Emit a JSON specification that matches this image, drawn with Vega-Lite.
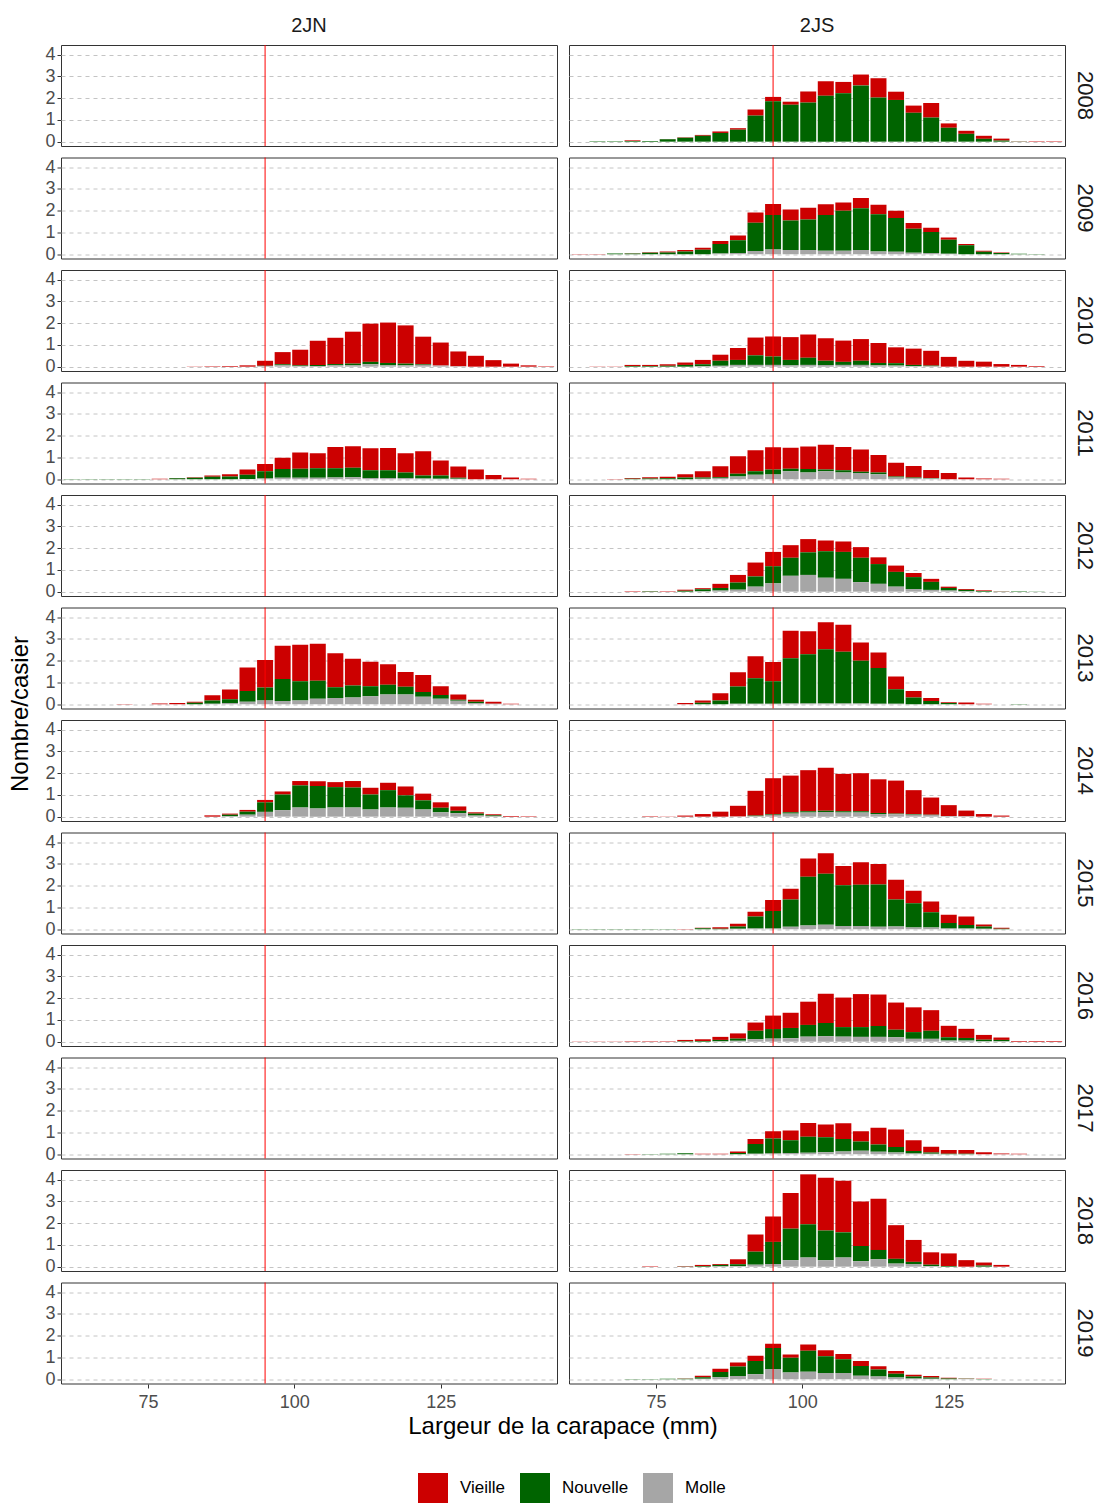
{
"$schema": "https://vega.github.io/schema/vega-lite/v6.json",
"padding": {"left": 8, "top": 16, "right": 5, "bottom": 5},
"bounds": "flush",
"data": {"values": [
{"zone":"2JN","year":2008,"x":95,"Vieille":0},
{"zone":"2JN","year":2009,"x":95,"Vieille":0},
{"zone":"2JN","year":2012,"x":95,"Vieille":0},
{"zone":"2JN","year":2015,"x":95,"Vieille":0},
{"zone":"2JN","year":2016,"x":95,"Vieille":0},
{"zone":"2JN","year":2017,"x":95,"Vieille":0},
{"zone":"2JN","year":2018,"x":95,"Vieille":0},
{"zone":"2JN","year":2019,"x":95,"Vieille":0},

{"zone":"2JN","year":2010,"x":83,"Vieille":0.01},
{"zone":"2JN","year":2010,"x":86,"Vieille":0.02},
{"zone":"2JN","year":2010,"x":89,"Vieille":0.03},
{"zone":"2JN","year":2010,"x":92,"Vieille":0.06},
{"zone":"2JN","year":2010,"x":95,"Vieille":0.23,"Nouvelle":0.01,"Molle":0.03},
{"zone":"2JN","year":2010,"x":98,"Vieille":0.56,"Nouvelle":0.05,"Molle":0.06},
{"zone":"2JN","year":2010,"x":101,"Vieille":0.72,"Nouvelle":0.03,"Molle":0.03},
{"zone":"2JN","year":2010,"x":104,"Vieille":1.11,"Nouvelle":0.05,"Molle":0.03},
{"zone":"2JN","year":2010,"x":107,"Vieille":1.21,"Nouvelle":0.06,"Molle":0.06},
{"zone":"2JN","year":2010,"x":110,"Vieille":1.47,"Nouvelle":0.08,"Molle":0.06},
{"zone":"2JN","year":2010,"x":113,"Vieille":1.76,"Nouvelle":0.11,"Molle":0.11},
{"zone":"2JN","year":2010,"x":116,"Vieille":1.86,"Nouvelle":0.11,"Molle":0.06},
{"zone":"2JN","year":2010,"x":119,"Vieille":1.76,"Nouvelle":0.08,"Molle":0.06},
{"zone":"2JN","year":2010,"x":122,"Vieille":1.27,"Nouvelle":0.03,"Molle":0.08},
{"zone":"2JN","year":2010,"x":125,"Vieille":1.06,"Molle":0.05},
{"zone":"2JN","year":2010,"x":128,"Vieille":0.68,"Molle":0.02},
{"zone":"2JN","year":2010,"x":131,"Vieille":0.5},
{"zone":"2JN","year":2010,"x":134,"Vieille":0.3},
{"zone":"2JN","year":2010,"x":137,"Vieille":0.14},
{"zone":"2JN","year":2010,"x":140,"Vieille":0.06},
{"zone":"2JN","year":2010,"x":143,"Vieille":0.02},

{"zone":"2JN","year":2011,"x":62,"Nouvelle":0.01},
{"zone":"2JN","year":2011,"x":65,"Nouvelle":0.01},
{"zone":"2JN","year":2011,"x":68,"Nouvelle":0.01},
{"zone":"2JN","year":2011,"x":71,"Nouvelle":0.01},
{"zone":"2JN","year":2011,"x":74,"Nouvelle":0.01},
{"zone":"2JN","year":2011,"x":77,"Vieille":0.02},
{"zone":"2JN","year":2011,"x":80,"Vieille":0.01,"Nouvelle":0.04},
{"zone":"2JN","year":2011,"x":83,"Vieille":0.03,"Nouvelle":0.06},
{"zone":"2JN","year":2011,"x":86,"Vieille":0.06,"Nouvelle":0.11},
{"zone":"2JN","year":2011,"x":89,"Vieille":0.11,"Nouvelle":0.12},
{"zone":"2JN","year":2011,"x":92,"Vieille":0.24,"Nouvelle":0.19,"Molle":0.01},
{"zone":"2JN","year":2011,"x":95,"Vieille":0.34,"Nouvelle":0.33,"Molle":0.03},
{"zone":"2JN","year":2011,"x":98,"Vieille":0.51,"Nouvelle":0.41,"Molle":0.06},
{"zone":"2JN","year":2011,"x":101,"Vieille":0.75,"Nouvelle":0.42,"Molle":0.06},
{"zone":"2JN","year":2011,"x":104,"Vieille":0.69,"Nouvelle":0.44,"Molle":0.06},
{"zone":"2JN","year":2011,"x":107,"Vieille":0.98,"Nouvelle":0.42,"Molle":0.08},
{"zone":"2JN","year":2011,"x":110,"Vieille":1.0,"Nouvelle":0.43,"Molle":0.09},
{"zone":"2JN","year":2011,"x":113,"Vieille":1.01,"Nouvelle":0.36,"Molle":0.05},
{"zone":"2JN","year":2011,"x":116,"Vieille":1.03,"Nouvelle":0.36,"Molle":0.05},
{"zone":"2JN","year":2011,"x":119,"Vieille":0.88,"Nouvelle":0.26,"Molle":0.05},
{"zone":"2JN","year":2011,"x":122,"Vieille":1.11,"Nouvelle":0.14,"Molle":0.03},
{"zone":"2JN","year":2011,"x":125,"Vieille":0.69,"Nouvelle":0.15,"Molle":0.02},
{"zone":"2JN","year":2011,"x":128,"Vieille":0.52,"Nouvelle":0.04,"Molle":0.02},
{"zone":"2JN","year":2011,"x":131,"Vieille":0.44},
{"zone":"2JN","year":2011,"x":134,"Vieille":0.19},
{"zone":"2JN","year":2011,"x":137,"Vieille":0.08},
{"zone":"2JN","year":2011,"x":140,"Vieille":0.02},

{"zone":"2JN","year":2013,"x":71,"Vieille":0.01},
{"zone":"2JN","year":2013,"x":77,"Vieille":0.03},
{"zone":"2JN","year":2013,"x":80,"Vieille":0.05},
{"zone":"2JN","year":2013,"x":83,"Vieille":0.05,"Nouvelle":0.06},
{"zone":"2JN","year":2013,"x":86,"Vieille":0.24,"Nouvelle":0.15,"Molle":0.02},
{"zone":"2JN","year":2013,"x":89,"Vieille":0.44,"Nouvelle":0.18,"Molle":0.05},
{"zone":"2JN","year":2013,"x":92,"Vieille":1.08,"Nouvelle":0.5,"Molle":0.11},
{"zone":"2JN","year":2013,"x":95,"Vieille":1.26,"Nouvelle":0.6,"Molle":0.17},
{"zone":"2JN","year":2013,"x":98,"Vieille":1.53,"Nouvelle":1.02,"Molle":0.14},
{"zone":"2JN","year":2013,"x":101,"Vieille":1.67,"Nouvelle":0.89,"Molle":0.17},
{"zone":"2JN","year":2013,"x":104,"Vieille":1.7,"Nouvelle":0.83,"Molle":0.25},
{"zone":"2JN","year":2013,"x":107,"Vieille":1.56,"Nouvelle":0.5,"Molle":0.28},
{"zone":"2JN","year":2013,"x":110,"Vieille":1.23,"Nouvelle":0.55,"Molle":0.31},
{"zone":"2JN","year":2013,"x":113,"Vieille":1.12,"Nouvelle":0.47,"Molle":0.36},
{"zone":"2JN","year":2013,"x":116,"Vieille":0.95,"Nouvelle":0.45,"Molle":0.44},
{"zone":"2JN","year":2013,"x":119,"Vieille":0.68,"Nouvelle":0.35,"Molle":0.45},
{"zone":"2JN","year":2013,"x":122,"Vieille":0.78,"Nouvelle":0.22,"Molle":0.34},
{"zone":"2JN","year":2013,"x":125,"Vieille":0.41,"Nouvelle":0.17,"Molle":0.25},
{"zone":"2JN","year":2013,"x":128,"Vieille":0.25,"Nouvelle":0.04,"Molle":0.16},
{"zone":"2JN","year":2013,"x":131,"Vieille":0.09,"Nouvelle":0.06,"Molle":0.05},
{"zone":"2JN","year":2013,"x":134,"Vieille":0.09,"Molle":0.02},
{"zone":"2JN","year":2013,"x":137,"Vieille":0.02},

{"zone":"2JN","year":2014,"x":86,"Vieille":0.06},
{"zone":"2JN","year":2014,"x":89,"Vieille":0.05,"Nouvelle":0.07,"Molle":0.02},
{"zone":"2JN","year":2014,"x":92,"Vieille":0.08,"Nouvelle":0.14,"Molle":0.09},
{"zone":"2JN","year":2014,"x":95,"Vieille":0.11,"Nouvelle":0.44,"Molle":0.22},
{"zone":"2JN","year":2014,"x":98,"Vieille":0.14,"Nouvelle":0.72,"Molle":0.3},
{"zone":"2JN","year":2014,"x":101,"Vieille":0.2,"Nouvelle":1.02,"Molle":0.42},
{"zone":"2JN","year":2014,"x":104,"Vieille":0.22,"Nouvelle":1.03,"Molle":0.38},
{"zone":"2JN","year":2014,"x":107,"Vieille":0.23,"Nouvelle":0.94,"Molle":0.42},
{"zone":"2JN","year":2014,"x":110,"Vieille":0.3,"Nouvelle":0.92,"Molle":0.42},
{"zone":"2JN","year":2014,"x":113,"Vieille":0.31,"Nouvelle":0.69,"Molle":0.33},
{"zone":"2JN","year":2014,"x":116,"Vieille":0.34,"Nouvelle":0.8,"Molle":0.42},
{"zone":"2JN","year":2014,"x":119,"Vieille":0.41,"Nouvelle":0.57,"Molle":0.41},
{"zone":"2JN","year":2014,"x":122,"Vieille":0.31,"Nouvelle":0.42,"Molle":0.33},
{"zone":"2JN","year":2014,"x":125,"Vieille":0.25,"Nouvelle":0.21,"Molle":0.2},
{"zone":"2JN","year":2014,"x":128,"Vieille":0.2,"Nouvelle":0.11,"Molle":0.16},
{"zone":"2JN","year":2014,"x":131,"Vieille":0.06,"Nouvelle":0.09,"Molle":0.05},
{"zone":"2JN","year":2014,"x":134,"Vieille":0.05,"Nouvelle":0.04,"Molle":0.02},
{"zone":"2JN","year":2014,"x":137,"Vieille":0.03},
{"zone":"2JN","year":2014,"x":140,"Vieille":0.02},

{"zone":"2JS","year":2008,"x":65,"Nouvelle":0.02},
{"zone":"2JS","year":2008,"x":68,"Nouvelle":0.02},
{"zone":"2JS","year":2008,"x":71,"Vieille":0.03,"Nouvelle":0.03},
{"zone":"2JS","year":2008,"x":74,"Nouvelle":0.03},
{"zone":"2JS","year":2008,"x":77,"Vieille":0.01,"Nouvelle":0.11},
{"zone":"2JS","year":2008,"x":80,"Vieille":0.02,"Nouvelle":0.18},
{"zone":"2JS","year":2008,"x":83,"Vieille":0.04,"Nouvelle":0.27},
{"zone":"2JS","year":2008,"x":86,"Vieille":0.07,"Nouvelle":0.4},
{"zone":"2JS","year":2008,"x":89,"Vieille":0.07,"Nouvelle":0.55},
{"zone":"2JS","year":2008,"x":92,"Vieille":0.28,"Nouvelle":1.2},
{"zone":"2JS","year":2008,"x":95,"Vieille":0.2,"Nouvelle":1.86},
{"zone":"2JS","year":2008,"x":98,"Vieille":0.14,"Nouvelle":1.7},
{"zone":"2JS","year":2008,"x":101,"Vieille":0.51,"Nouvelle":1.8},
{"zone":"2JS","year":2008,"x":104,"Vieille":0.67,"Nouvelle":2.11},
{"zone":"2JS","year":2008,"x":107,"Vieille":0.52,"Nouvelle":2.23},
{"zone":"2JS","year":2008,"x":110,"Vieille":0.5,"Nouvelle":2.59},
{"zone":"2JS","year":2008,"x":113,"Vieille":0.89,"Nouvelle":2.03},
{"zone":"2JS","year":2008,"x":116,"Vieille":0.38,"Nouvelle":1.92},
{"zone":"2JS","year":2008,"x":119,"Vieille":0.33,"Nouvelle":1.33},
{"zone":"2JS","year":2008,"x":122,"Vieille":0.67,"Nouvelle":1.11},
{"zone":"2JS","year":2008,"x":125,"Vieille":0.2,"Nouvelle":0.64},
{"zone":"2JS","year":2008,"x":128,"Vieille":0.14,"Nouvelle":0.36},
{"zone":"2JS","year":2008,"x":131,"Vieille":0.14,"Nouvelle":0.13},
{"zone":"2JS","year":2008,"x":134,"Vieille":0.09,"Nouvelle":0.05},
{"zone":"2JS","year":2008,"x":137,"Vieille":0.01,"Nouvelle":0.01},
{"zone":"2JS","year":2008,"x":140,"Vieille":0.02},
{"zone":"2JS","year":2008,"x":143,"Vieille":0.02},

{"zone":"2JS","year":2009,"x":62,"Vieille":0.01},
{"zone":"2JS","year":2009,"x":65,"Vieille":0.01},
{"zone":"2JS","year":2009,"x":68,"Nouvelle":0.03},
{"zone":"2JS","year":2009,"x":71,"Vieille":0.01,"Nouvelle":0.03},
{"zone":"2JS","year":2009,"x":74,"Vieille":0.03,"Nouvelle":0.06},
{"zone":"2JS","year":2009,"x":77,"Vieille":0.04,"Nouvelle":0.08},
{"zone":"2JS","year":2009,"x":80,"Vieille":0.07,"Nouvelle":0.12},
{"zone":"2JS","year":2009,"x":83,"Vieille":0.1,"Nouvelle":0.2},
{"zone":"2JS","year":2009,"x":86,"Vieille":0.14,"Nouvelle":0.44,"Molle":0.03},
{"zone":"2JS","year":2009,"x":89,"Vieille":0.22,"Nouvelle":0.59,"Molle":0.05},
{"zone":"2JS","year":2009,"x":92,"Vieille":0.47,"Nouvelle":1.31,"Molle":0.14},
{"zone":"2JS","year":2009,"x":95,"Vieille":0.51,"Nouvelle":1.58,"Molle":0.22},
{"zone":"2JS","year":2009,"x":98,"Vieille":0.51,"Nouvelle":1.36,"Molle":0.19},
{"zone":"2JS","year":2009,"x":101,"Vieille":0.55,"Nouvelle":1.4,"Molle":0.19},
{"zone":"2JS","year":2009,"x":104,"Vieille":0.5,"Nouvelle":1.64,"Molle":0.16},
{"zone":"2JS","year":2009,"x":107,"Vieille":0.38,"Nouvelle":1.84,"Molle":0.16},
{"zone":"2JS","year":2009,"x":110,"Vieille":0.47,"Nouvelle":1.92,"Molle":0.19},
{"zone":"2JS","year":2009,"x":113,"Vieille":0.43,"Nouvelle":1.72,"Molle":0.12},
{"zone":"2JS","year":2009,"x":116,"Vieille":0.33,"Nouvelle":1.56,"Molle":0.11},
{"zone":"2JS","year":2009,"x":119,"Vieille":0.27,"Nouvelle":1.11,"Molle":0.06},
{"zone":"2JS","year":2009,"x":122,"Vieille":0.2,"Nouvelle":0.97,"Molle":0.05},
{"zone":"2JS","year":2009,"x":125,"Vieille":0.11,"Nouvelle":0.64,"Molle":0.02},
{"zone":"2JS","year":2009,"x":128,"Vieille":0.06,"Nouvelle":0.41},
{"zone":"2JS","year":2009,"x":131,"Vieille":0.05,"Nouvelle":0.11},
{"zone":"2JS","year":2009,"x":134,"Vieille":0.03,"Nouvelle":0.05},
{"zone":"2JS","year":2009,"x":137,"Nouvelle":0.02},
{"zone":"2JS","year":2009,"x":140,"Nouvelle":0.01},

{"zone":"2JS","year":2010,"x":65,"Vieille":0.01},
{"zone":"2JS","year":2010,"x":68,"Vieille":0.01},
{"zone":"2JS","year":2010,"x":71,"Vieille":0.05,"Nouvelle":0.03},
{"zone":"2JS","year":2010,"x":74,"Vieille":0.05,"Nouvelle":0.03},
{"zone":"2JS","year":2010,"x":77,"Vieille":0.07,"Nouvelle":0.04},
{"zone":"2JS","year":2010,"x":80,"Vieille":0.11,"Nouvelle":0.08},
{"zone":"2JS","year":2010,"x":83,"Vieille":0.2,"Nouvelle":0.09,"Molle":0.02},
{"zone":"2JS","year":2010,"x":86,"Vieille":0.28,"Nouvelle":0.23,"Molle":0.04},
{"zone":"2JS","year":2010,"x":89,"Vieille":0.55,"Nouvelle":0.23,"Molle":0.08},
{"zone":"2JS","year":2010,"x":92,"Vieille":0.82,"Nouvelle":0.44,"Molle":0.08},
{"zone":"2JS","year":2010,"x":95,"Vieille":0.92,"Nouvelle":0.39,"Molle":0.08},
{"zone":"2JS","year":2010,"x":98,"Vieille":1.05,"Nouvelle":0.25,"Molle":0.06},
{"zone":"2JS","year":2010,"x":101,"Vieille":1.07,"Nouvelle":0.33,"Molle":0.08},
{"zone":"2JS","year":2010,"x":104,"Vieille":1.04,"Nouvelle":0.19,"Molle":0.08},
{"zone":"2JS","year":2010,"x":107,"Vieille":0.98,"Nouvelle":0.14,"Molle":0.08},
{"zone":"2JS","year":2010,"x":110,"Vieille":1.0,"Nouvelle":0.19,"Molle":0.08},
{"zone":"2JS","year":2010,"x":113,"Vieille":0.92,"Nouvelle":0.11,"Molle":0.06},
{"zone":"2JS","year":2010,"x":116,"Vieille":0.73,"Nouvelle":0.11,"Molle":0.05},
{"zone":"2JS","year":2010,"x":119,"Vieille":0.75,"Nouvelle":0.05,"Molle":0.03},
{"zone":"2JS","year":2010,"x":122,"Vieille":0.68,"Nouvelle":0.03,"Molle":0.02},
{"zone":"2JS","year":2010,"x":125,"Vieille":0.45},
{"zone":"2JS","year":2010,"x":128,"Vieille":0.27},
{"zone":"2JS","year":2010,"x":131,"Vieille":0.23},
{"zone":"2JS","year":2010,"x":134,"Vieille":0.12},
{"zone":"2JS","year":2010,"x":137,"Vieille":0.08},
{"zone":"2JS","year":2010,"x":140,"Vieille":0.03},

{"zone":"2JS","year":2011,"x":68,"Vieille":0.01},
{"zone":"2JS","year":2011,"x":71,"Vieille":0.03,"Nouvelle":0.02},
{"zone":"2JS","year":2011,"x":74,"Vieille":0.06,"Nouvelle":0.03},
{"zone":"2JS","year":2011,"x":77,"Vieille":0.07,"Nouvelle":0.04},
{"zone":"2JS","year":2011,"x":80,"Vieille":0.15,"Nouvelle":0.08},
{"zone":"2JS","year":2011,"x":83,"Vieille":0.28,"Nouvelle":0.06,"Molle":0.02},
{"zone":"2JS","year":2011,"x":86,"Vieille":0.5,"Nouvelle":0.04,"Molle":0.05},
{"zone":"2JS","year":2011,"x":89,"Vieille":0.81,"Nouvelle":0.13,"Molle":0.12},
{"zone":"2JS","year":2011,"x":92,"Vieille":0.97,"Nouvelle":0.16,"Molle":0.2},
{"zone":"2JS","year":2011,"x":95,"Vieille":1.03,"Nouvelle":0.22,"Molle":0.22},
{"zone":"2JS","year":2011,"x":98,"Vieille":0.97,"Nouvelle":0.12,"Molle":0.36},
{"zone":"2JS","year":2011,"x":101,"Vieille":1.03,"Nouvelle":0.16,"Molle":0.31},
{"zone":"2JS","year":2011,"x":104,"Vieille":1.13,"Nouvelle":0.09,"Molle":0.36},
{"zone":"2JS","year":2011,"x":107,"Vieille":1.07,"Nouvelle":0.1,"Molle":0.31},
{"zone":"2JS","year":2011,"x":110,"Vieille":1.02,"Nouvelle":0.06,"Molle":0.28},
{"zone":"2JS","year":2011,"x":113,"Vieille":0.8,"Nouvelle":0.08,"Molle":0.23},
{"zone":"2JS","year":2011,"x":116,"Vieille":0.63,"Nouvelle":0.04,"Molle":0.08},
{"zone":"2JS","year":2011,"x":119,"Vieille":0.53,"Nouvelle":0.03,"Molle":0.05},
{"zone":"2JS","year":2011,"x":122,"Vieille":0.37,"Nouvelle":0.02,"Molle":0.03},
{"zone":"2JS","year":2011,"x":125,"Vieille":0.28},
{"zone":"2JS","year":2011,"x":128,"Vieille":0.08},
{"zone":"2JS","year":2011,"x":131,"Vieille":0.03},
{"zone":"2JS","year":2011,"x":134,"Vieille":0.02},

{"zone":"2JS","year":2012,"x":71,"Vieille":0.02},
{"zone":"2JS","year":2012,"x":74,"Vieille":0.01,"Nouvelle":0.02},
{"zone":"2JS","year":2012,"x":77,"Vieille":0.02},
{"zone":"2JS","year":2012,"x":80,"Vieille":0.05,"Nouvelle":0.04},
{"zone":"2JS","year":2012,"x":83,"Vieille":0.05,"Nouvelle":0.09,"Molle":0.02},
{"zone":"2JS","year":2012,"x":86,"Vieille":0.19,"Nouvelle":0.12,"Molle":0.05},
{"zone":"2JS","year":2012,"x":89,"Vieille":0.35,"Nouvelle":0.33,"Molle":0.09},
{"zone":"2JS","year":2012,"x":92,"Vieille":0.64,"Nouvelle":0.47,"Molle":0.23},
{"zone":"2JS","year":2012,"x":95,"Vieille":0.66,"Nouvelle":0.79,"Molle":0.38},
{"zone":"2JS","year":2012,"x":98,"Vieille":0.58,"Nouvelle":0.83,"Molle":0.73},
{"zone":"2JS","year":2012,"x":101,"Vieille":0.61,"Nouvelle":1.04,"Molle":0.77},
{"zone":"2JS","year":2012,"x":104,"Vieille":0.5,"Nouvelle":1.22,"Molle":0.64},
{"zone":"2JS","year":2012,"x":107,"Vieille":0.48,"Nouvelle":1.24,"Molle":0.59},
{"zone":"2JS","year":2012,"x":110,"Vieille":0.49,"Nouvelle":1.12,"Molle":0.44},
{"zone":"2JS","year":2012,"x":113,"Vieille":0.31,"Nouvelle":0.91,"Molle":0.36},
{"zone":"2JS","year":2012,"x":116,"Vieille":0.29,"Nouvelle":0.68,"Molle":0.23},
{"zone":"2JS","year":2012,"x":119,"Vieille":0.19,"Nouvelle":0.55,"Molle":0.12},
{"zone":"2JS","year":2012,"x":122,"Vieille":0.14,"Nouvelle":0.37,"Molle":0.08},
{"zone":"2JS","year":2012,"x":125,"Vieille":0.06,"Nouvelle":0.12,"Molle":0.05},
{"zone":"2JS","year":2012,"x":128,"Vieille":0.04,"Nouvelle":0.06,"Molle":0.02},
{"zone":"2JS","year":2012,"x":131,"Vieille":0.03,"Nouvelle":0.03},
{"zone":"2JS","year":2012,"x":134,"Vieille":0.01,"Nouvelle":0.01},
{"zone":"2JS","year":2012,"x":137,"Nouvelle":0.02},
{"zone":"2JS","year":2012,"x":140,"Nouvelle":0.01},

{"zone":"2JS","year":2013,"x":80,"Vieille":0.05},
{"zone":"2JS","year":2013,"x":83,"Vieille":0.11,"Nouvelle":0.06},
{"zone":"2JS","year":2013,"x":86,"Vieille":0.33,"Nouvelle":0.17},
{"zone":"2JS","year":2013,"x":89,"Vieille":0.66,"Nouvelle":0.79,"Molle":0.02},
{"zone":"2JS","year":2013,"x":92,"Vieille":1.01,"Nouvelle":1.17,"Molle":0.02},
{"zone":"2JS","year":2013,"x":95,"Vieille":0.88,"Nouvelle":1.04,"Molle":0.02},
{"zone":"2JS","year":2013,"x":98,"Vieille":1.27,"Nouvelle":2.08,"Molle":0.03},
{"zone":"2JS","year":2013,"x":101,"Vieille":1.06,"Nouvelle":2.27,"Molle":0.03},
{"zone":"2JS","year":2013,"x":104,"Vieille":1.24,"Nouvelle":2.5,"Molle":0.03},
{"zone":"2JS","year":2013,"x":107,"Vieille":1.25,"Nouvelle":2.38,"Molle":0.03},
{"zone":"2JS","year":2013,"x":110,"Vieille":0.84,"Nouvelle":1.97,"Molle":0.03},
{"zone":"2JS","year":2013,"x":113,"Vieille":0.72,"Nouvelle":1.64,"Molle":0.02},
{"zone":"2JS","year":2013,"x":116,"Vieille":0.58,"Nouvelle":0.67,"Molle":0.02},
{"zone":"2JS","year":2013,"x":119,"Vieille":0.3,"Nouvelle":0.31},
{"zone":"2JS","year":2013,"x":122,"Vieille":0.14,"Nouvelle":0.14},
{"zone":"2JS","year":2013,"x":125,"Vieille":0.04,"Nouvelle":0.05},
{"zone":"2JS","year":2013,"x":128,"Vieille":0.08},
{"zone":"2JS","year":2013,"x":131,"Vieille":0.02},
{"zone":"2JS","year":2013,"x":137,"Nouvelle":0.01},

{"zone":"2JS","year":2014,"x":74,"Vieille":0.02},
{"zone":"2JS","year":2014,"x":77,"Vieille":0.01},
{"zone":"2JS","year":2014,"x":80,"Vieille":0.05},
{"zone":"2JS","year":2014,"x":83,"Vieille":0.12},
{"zone":"2JS","year":2014,"x":86,"Vieille":0.23},
{"zone":"2JS","year":2014,"x":89,"Vieille":0.49,"Molle":0.01},
{"zone":"2JS","year":2014,"x":92,"Vieille":1.14,"Nouvelle":0.03,"Molle":0.02},
{"zone":"2JS","year":2014,"x":95,"Vieille":1.66,"Nouvelle":0.03,"Molle":0.08},
{"zone":"2JS","year":2014,"x":98,"Vieille":1.69,"Nouvelle":0.06,"Molle":0.14},
{"zone":"2JS","year":2014,"x":101,"Vieille":1.89,"Nouvelle":0.06,"Molle":0.19},
{"zone":"2JS","year":2014,"x":104,"Vieille":1.98,"Nouvelle":0.05,"Molle":0.22},
{"zone":"2JS","year":2014,"x":107,"Vieille":1.72,"Nouvelle":0.06,"Molle":0.19},
{"zone":"2JS","year":2014,"x":110,"Vieille":1.75,"Nouvelle":0.06,"Molle":0.19},
{"zone":"2JS","year":2014,"x":113,"Vieille":1.55,"Nouvelle":0.05,"Molle":0.12},
{"zone":"2JS","year":2014,"x":116,"Vieille":1.52,"Nouvelle":0.03,"Molle":0.11},
{"zone":"2JS","year":2014,"x":119,"Vieille":1.1,"Nouvelle":0.03,"Molle":0.09},
{"zone":"2JS","year":2014,"x":122,"Vieille":0.79,"Nouvelle":0.01,"Molle":0.08},
{"zone":"2JS","year":2014,"x":125,"Vieille":0.5,"Molle":0.03},
{"zone":"2JS","year":2014,"x":128,"Vieille":0.26,"Molle":0.02},
{"zone":"2JS","year":2014,"x":131,"Vieille":0.12},
{"zone":"2JS","year":2014,"x":134,"Vieille":0.05},

{"zone":"2JS","year":2015,"x":62,"Nouvelle":0.01},
{"zone":"2JS","year":2015,"x":65,"Nouvelle":0.01},
{"zone":"2JS","year":2015,"x":68,"Nouvelle":0.01},
{"zone":"2JS","year":2015,"x":71,"Nouvelle":0.01},
{"zone":"2JS","year":2015,"x":74,"Nouvelle":0.01},
{"zone":"2JS","year":2015,"x":77,"Nouvelle":0.01},
{"zone":"2JS","year":2015,"x":80,"Vieille":0.01},
{"zone":"2JS","year":2015,"x":83,"Vieille":0.02,"Nouvelle":0.04},
{"zone":"2JS","year":2015,"x":86,"Vieille":0.07,"Nouvelle":0.02},
{"zone":"2JS","year":2015,"x":89,"Vieille":0.13,"Nouvelle":0.1,"Molle":0.02},
{"zone":"2JS","year":2015,"x":92,"Vieille":0.22,"Nouvelle":0.55,"Molle":0.03},
{"zone":"2JS","year":2015,"x":95,"Vieille":0.5,"Nouvelle":0.81,"Molle":0.03},
{"zone":"2JS","year":2015,"x":98,"Vieille":0.5,"Nouvelle":1.25,"Molle":0.11},
{"zone":"2JS","year":2015,"x":101,"Vieille":0.84,"Nouvelle":2.24,"Molle":0.17},
{"zone":"2JS","year":2015,"x":104,"Vieille":0.95,"Nouvelle":2.35,"Molle":0.2},
{"zone":"2JS","year":2015,"x":107,"Vieille":0.89,"Nouvelle":1.88,"Molle":0.14},
{"zone":"2JS","year":2015,"x":110,"Vieille":1.03,"Nouvelle":1.91,"Molle":0.14},
{"zone":"2JS","year":2015,"x":113,"Vieille":0.94,"Nouvelle":1.95,"Molle":0.11},
{"zone":"2JS","year":2015,"x":116,"Vieille":0.91,"Nouvelle":1.24,"Molle":0.12},
{"zone":"2JS","year":2015,"x":119,"Vieille":0.58,"Nouvelle":1.11,"Molle":0.08},
{"zone":"2JS","year":2015,"x":122,"Vieille":0.49,"Nouvelle":0.7,"Molle":0.08},
{"zone":"2JS","year":2015,"x":125,"Vieille":0.38,"Nouvelle":0.25,"Molle":0.03},
{"zone":"2JS","year":2015,"x":128,"Vieille":0.39,"Nouvelle":0.16,"Molle":0.03},
{"zone":"2JS","year":2015,"x":131,"Vieille":0.1,"Nouvelle":0.1,"Molle":0.02},
{"zone":"2JS","year":2015,"x":134,"Vieille":0.04,"Nouvelle":0.02},

{"zone":"2JS","year":2016,"x":62,"Vieille":0.01},
{"zone":"2JS","year":2016,"x":65,"Vieille":0.01},
{"zone":"2JS","year":2016,"x":68,"Vieille":0.01},
{"zone":"2JS","year":2016,"x":71,"Vieille":0.02},
{"zone":"2JS","year":2016,"x":74,"Vieille":0.02},
{"zone":"2JS","year":2016,"x":77,"Vieille":0.02},
{"zone":"2JS","year":2016,"x":80,"Vieille":0.06,"Nouvelle":0.02},
{"zone":"2JS","year":2016,"x":83,"Vieille":0.08,"Nouvelle":0.03},
{"zone":"2JS","year":2016,"x":86,"Vieille":0.14,"Nouvelle":0.06,"Molle":0.02},
{"zone":"2JS","year":2016,"x":89,"Vieille":0.24,"Nouvelle":0.1,"Molle":0.04},
{"zone":"2JS","year":2016,"x":92,"Vieille":0.38,"Nouvelle":0.39,"Molle":0.11},
{"zone":"2JS","year":2016,"x":95,"Vieille":0.62,"Nouvelle":0.44,"Molle":0.14},
{"zone":"2JS","year":2016,"x":98,"Vieille":0.7,"Nouvelle":0.47,"Molle":0.16},
{"zone":"2JS","year":2016,"x":101,"Vieille":1.07,"Nouvelle":0.54,"Molle":0.23},
{"zone":"2JS","year":2016,"x":104,"Vieille":1.34,"Nouvelle":0.61,"Molle":0.25},
{"zone":"2JS","year":2016,"x":107,"Vieille":1.36,"Nouvelle":0.44,"Molle":0.23},
{"zone":"2JS","year":2016,"x":110,"Vieille":1.52,"Nouvelle":0.45,"Molle":0.22},
{"zone":"2JS","year":2016,"x":113,"Vieille":1.45,"Nouvelle":0.5,"Molle":0.22},
{"zone":"2JS","year":2016,"x":116,"Vieille":1.25,"Nouvelle":0.35,"Molle":0.2},
{"zone":"2JS","year":2016,"x":119,"Vieille":1.14,"Nouvelle":0.31,"Molle":0.13},
{"zone":"2JS","year":2016,"x":122,"Vieille":0.95,"Nouvelle":0.37,"Molle":0.13},
{"zone":"2JS","year":2016,"x":125,"Vieille":0.53,"Nouvelle":0.15,"Molle":0.05},
{"zone":"2JS","year":2016,"x":128,"Vieille":0.42,"Nouvelle":0.12,"Molle":0.05},
{"zone":"2JS","year":2016,"x":131,"Vieille":0.22,"Nouvelle":0.07,"Molle":0.02},
{"zone":"2JS","year":2016,"x":134,"Vieille":0.11,"Nouvelle":0.06,"Molle":0.02},
{"zone":"2JS","year":2016,"x":137,"Vieille":0.03},
{"zone":"2JS","year":2016,"x":140,"Vieille":0.03},
{"zone":"2JS","year":2016,"x":143,"Vieille":0.03},

{"zone":"2JS","year":2017,"x":71,"Vieille":0.01},
{"zone":"2JS","year":2017,"x":74,"Nouvelle":0.01},
{"zone":"2JS","year":2017,"x":77,"Nouvelle":0.02},
{"zone":"2JS","year":2017,"x":80,"Nouvelle":0.04},
{"zone":"2JS","year":2017,"x":83,"Vieille":0.02},
{"zone":"2JS","year":2017,"x":86,"Vieille":0.02},
{"zone":"2JS","year":2017,"x":89,"Vieille":0.07,"Nouvelle":0.05},
{"zone":"2JS","year":2017,"x":92,"Vieille":0.23,"Nouvelle":0.45,"Molle":0.02},
{"zone":"2JS","year":2017,"x":95,"Vieille":0.33,"Nouvelle":0.69,"Molle":0.03},
{"zone":"2JS","year":2017,"x":98,"Vieille":0.45,"Nouvelle":0.59,"Molle":0.05},
{"zone":"2JS","year":2017,"x":101,"Vieille":0.64,"Nouvelle":0.74,"Molle":0.06},
{"zone":"2JS","year":2017,"x":104,"Vieille":0.58,"Nouvelle":0.69,"Molle":0.09},
{"zone":"2JS","year":2017,"x":107,"Vieille":0.72,"Nouvelle":0.58,"Molle":0.12},
{"zone":"2JS","year":2017,"x":110,"Vieille":0.48,"Nouvelle":0.42,"Molle":0.16},
{"zone":"2JS","year":2017,"x":113,"Vieille":0.77,"Nouvelle":0.34,"Molle":0.11},
{"zone":"2JS","year":2017,"x":116,"Vieille":0.8,"Nouvelle":0.25,"Molle":0.08},
{"zone":"2JS","year":2017,"x":119,"Vieille":0.5,"Nouvelle":0.11,"Molle":0.03},
{"zone":"2JS","year":2017,"x":122,"Vieille":0.26,"Nouvelle":0.06,"Molle":0.02},
{"zone":"2JS","year":2017,"x":125,"Vieille":0.17,"Nouvelle":0.02},
{"zone":"2JS","year":2017,"x":128,"Vieille":0.17,"Nouvelle":0.02},
{"zone":"2JS","year":2017,"x":131,"Vieille":0.09},
{"zone":"2JS","year":2017,"x":134,"Vieille":0.03},
{"zone":"2JS","year":2017,"x":137,"Vieille":0.02},

{"zone":"2JS","year":2018,"x":74,"Vieille":0.02},
{"zone":"2JS","year":2018,"x":80,"Vieille":0.02,"Nouvelle":0.01},
{"zone":"2JS","year":2018,"x":83,"Vieille":0.05,"Nouvelle":0.03},
{"zone":"2JS","year":2018,"x":86,"Vieille":0.04,"Nouvelle":0.06,"Molle":0.02},
{"zone":"2JS","year":2018,"x":89,"Vieille":0.23,"Nouvelle":0.08,"Molle":0.03},
{"zone":"2JS","year":2018,"x":92,"Vieille":0.79,"Nouvelle":0.6,"Molle":0.09},
{"zone":"2JS","year":2018,"x":95,"Vieille":1.17,"Nouvelle":1.02,"Molle":0.12},
{"zone":"2JS","year":2018,"x":98,"Vieille":1.64,"Nouvelle":1.45,"Molle":0.3},
{"zone":"2JS","year":2018,"x":101,"Vieille":2.3,"Nouvelle":1.53,"Molle":0.42},
{"zone":"2JS","year":2018,"x":104,"Vieille":2.42,"Nouvelle":1.37,"Molle":0.3},
{"zone":"2JS","year":2018,"x":107,"Vieille":2.37,"Nouvelle":1.16,"Molle":0.42},
{"zone":"2JS","year":2018,"x":110,"Vieille":2.05,"Nouvelle":0.7,"Molle":0.25},
{"zone":"2JS","year":2018,"x":113,"Vieille":2.36,"Nouvelle":0.43,"Molle":0.34},
{"zone":"2JS","year":2018,"x":116,"Vieille":1.55,"Nouvelle":0.22,"Molle":0.14},
{"zone":"2JS","year":2018,"x":119,"Vieille":1.01,"Nouvelle":0.1,"Molle":0.12},
{"zone":"2JS","year":2018,"x":122,"Vieille":0.57,"Nouvelle":0.06,"Molle":0.03},
{"zone":"2JS","year":2018,"x":125,"Vieille":0.58,"Nouvelle":0.03},
{"zone":"2JS","year":2018,"x":128,"Vieille":0.3},
{"zone":"2JS","year":2018,"x":131,"Vieille":0.14,"Nouvelle":0.05},
{"zone":"2JS","year":2018,"x":134,"Vieille":0.08},

{"zone":"2JS","year":2019,"x":71,"Nouvelle":0.01},
{"zone":"2JS","year":2019,"x":74,"Nouvelle":0.01},
{"zone":"2JS","year":2019,"x":77,"Nouvelle":0.02},
{"zone":"2JS","year":2019,"x":80,"Vieille":0.01,"Nouvelle":0.02},
{"zone":"2JS","year":2019,"x":83,"Vieille":0.07,"Nouvelle":0.07,"Molle":0.02},
{"zone":"2JS","year":2019,"x":86,"Vieille":0.15,"Nouvelle":0.24,"Molle":0.09},
{"zone":"2JS","year":2019,"x":89,"Vieille":0.19,"Nouvelle":0.44,"Molle":0.14},
{"zone":"2JS","year":2019,"x":92,"Vieille":0.24,"Nouvelle":0.61,"Molle":0.23},
{"zone":"2JS","year":2019,"x":95,"Vieille":0.19,"Nouvelle":0.97,"Molle":0.47},
{"zone":"2JS","year":2019,"x":98,"Vieille":0.16,"Nouvelle":0.67,"Molle":0.31},
{"zone":"2JS","year":2019,"x":101,"Vieille":0.28,"Nouvelle":0.97,"Molle":0.34},
{"zone":"2JS","year":2019,"x":104,"Vieille":0.27,"Nouvelle":0.78,"Molle":0.28},
{"zone":"2JS","year":2019,"x":107,"Vieille":0.24,"Nouvelle":0.64,"Molle":0.28},
{"zone":"2JS","year":2019,"x":110,"Vieille":0.23,"Nouvelle":0.45,"Molle":0.16},
{"zone":"2JS","year":2019,"x":113,"Vieille":0.15,"Nouvelle":0.32,"Molle":0.12},
{"zone":"2JS","year":2019,"x":116,"Vieille":0.13,"Nouvelle":0.17,"Molle":0.08},
{"zone":"2JS","year":2019,"x":119,"Vieille":0.08,"Nouvelle":0.09,"Molle":0.03},
{"zone":"2JS","year":2019,"x":122,"Vieille":0.06,"Nouvelle":0.06,"Molle":0.02},
{"zone":"2JS","year":2019,"x":125,"Vieille":0.03,"Nouvelle":0.03},
{"zone":"2JS","year":2019,"x":128,"Vieille":0.01,"Nouvelle":0.01,"Molle":0.01},
{"zone":"2JS","year":2019,"x":131,"Vieille":0.01,"Nouvelle":0.01}
]},
"transform": [
  {"fold": ["Vieille", "Nouvelle", "Molle"], "as": ["etat", "valeur"]},
  {"filter": "isValid(datum.valeur)"}
],
"facet": {
  "column": {"field": "zone", "type": "nominal", "title": "Largeur de la carapace (mm)",
    "header": {"labelFontSize": 20, "labelColor": "#1A1A1A", "labelPadding": 9, "labelOrient": "top",
      "titleOrient": "bottom", "titleFontSize": 24, "titleFontWeight": "normal", "titleColor": "#000000", "titlePadding": -6}},
  "row": {"field": "year", "type": "ordinal", "title": "Nombre/casier",
    "header": {"labelFontSize": 22, "labelColor": "#1A1A1A", "labelOrient": "right", "labelAngle": 90, "labelPadding": 8,
      "titleOrient": "left", "titleFontSize": 24, "titleFontWeight": "normal", "titleColor": "#000000", "titlePadding": 1}}
},
"spacing": {"row": 11.5, "column": 12},
"spec": {
  "width": 496,
  "height": 101,
  "layer": [
    {
      "mark": {"type": "bar", "size": 16, "clip": true},
      "encoding": {
        "x": {"field": "x", "type": "quantitative",
          "scale": {"domain": [61, 144], "nice": false, "zero": false},
          "axis": {"values": [75, 100, 125], "title": null, "grid": false, "labelPadding": 5}},
        "y": {"field": "valeur", "type": "quantitative", "stack": "zero",
          "scale": {"domain": [-0.2, 4.45], "nice": false, "zero": false},
          "axis": {"values": [0, 1, 2, 3, 4], "title": null, "grid": true, "gridDash": [4, 4], "gridColor": "#C4C4C4"}},
        "color": {"field": "etat", "type": "nominal",
          "scale": {"domain": ["Vieille", "Nouvelle", "Molle"], "range": ["#CC0000", "#006400", "#A6A6A6"]},
          "legend": {"title": null, "orient": "none", "direction": "horizontal", "legendX": 357, "legendY": 1428}},
        "order": {"field": "etat", "sort": "ascending"}
      }
    },
    {
      "transform": [{"aggregate": [{"op": "count", "as": "n"}], "groupby": ["zone", "year"]}],
      "mark": {"type": "rule", "color": "#FF0000", "strokeWidth": 1},
      "encoding": {"x": {"datum": 95}}
    }
  ]
},
"config": {
  "font": "Liberation Sans",
  "view": {"stroke": "#333333", "strokeWidth": 1},
  "axis": {"labelFontSize": 18, "labelColor": "#4D4D4D", "tickColor": "#333333", "tickSize": 4, "domain": false, "labelPadding": 2},
  "legend": {"symbolType": "square", "symbolSize": 900, "symbolStrokeWidth": 0, "symbolOpacity": 1,
    "labelFontSize": 17, "labelColor": "#000000", "labelOffset": 12, "columnPadding": 14, "gridAlign": "none"}
}
}
